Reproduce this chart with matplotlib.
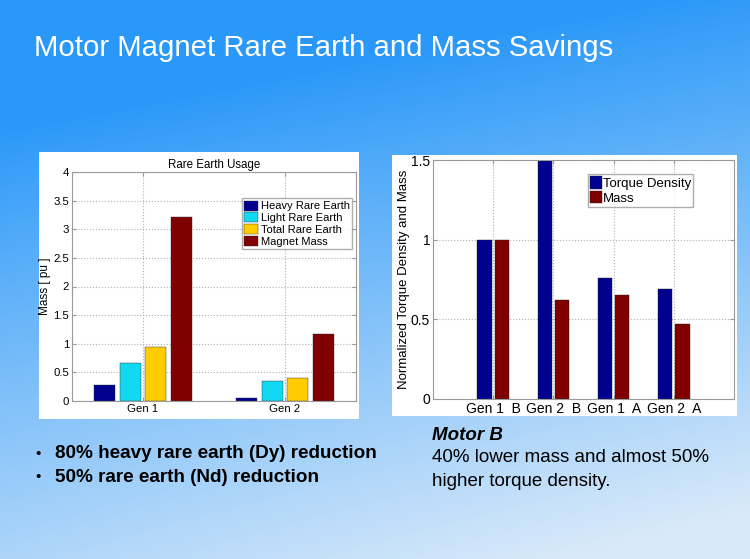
import numpy as np
from matplotlib import pyplot as plt
from matplotlib.patches import Rectangle

plt.rcParams['font.family'] = ['Liberation Sans', 'DejaVu Sans']

# Left chart data: rare earth usage
gens = ['Gen 1', 'Gen 2']
series_left = ['Heavy Rare Earth', 'Light Rare Earth', 'Total Rare Earth', 'Magnet Mass']
heavy = [0.28, 0.05]
light = [0.67, 0.35]
total = [0.94, 0.40]
magnet = [3.21, 1.17]
colors_left = ['#00008f', '#12d8f2', '#ffcc00', '#800000']

# Right chart data: normalized torque density and mass
motors = ['Gen 1  B', 'Gen 2  B', 'Gen 1  A', 'Gen 2  A']
torque = [1.0, 1.5, 0.76, 0.69]
mass = [1.0, 0.62, 0.655, 0.47]
colors_right = ['#00008f', '#800000']

W, H = 750, 559
fig = plt.figure(figsize=(W / 100, H / 100), dpi=100)

# Slide background gradient
bg = fig.add_axes([0, 0, 1, 1], zorder=-10)
yy, xx = np.mgrid[0:1:200j, 0:1:300j]
t = np.clip(yy * 0.95 + xx * 0.25 - 0.22 + 0.15 * np.clip(yy - 0.2, 0, 1) * xx, 0, 1) ** 0.9
top = np.array([42, 152, 248]) / 255
bot = np.array([215, 233, 250]) / 255
img = top[None, None, :] * (1 - t[..., None]) + bot[None, None, :] * t[..., None]
bg.imshow(img, aspect='auto', extent=[0, 1, 1, 0])
bg.set_axis_off()


def fx(px):
    return px / W


def fy(py):
    return 1 - py / H


# White panels behind charts
for x0, y0, x1, y1 in [(39, 152, 359, 419), (392, 155, 737, 416)]:
    fig.patches.append(Rectangle((fx(x0), fy(y1)), fx(x1 - x0), (y1 - y0) / H,
                                 transform=fig.transFigure, facecolor='white',
                                 edgecolor='none', zorder=-5))

fig.text(fx(34), fy(48), 'Motor Magnet Rare Earth and Mass Savings', color='white',
         fontsize=21.2, va='center', ha='left')


def style(ax):
    ax.set_facecolor('white')
    ax.grid(True, linestyle=':', color='#b0b0b0', linewidth=0.8)
    ax.set_axisbelow(True)
    for s in ax.spines.values():
        s.set_color('#9a9a9a')
        s.set_linewidth(0.8)
    ax.tick_params(direction='in', length=3, color='#9a9a9a', top=True, right=True)


# Left chart
ax1 = fig.add_axes([fx(72), fy(401), fx(356 - 72), (401 - 172) / H])
xl = np.arange(1, len(gens) + 1)
for i, (vals, lab) in enumerate(zip([heavy, light, total, magnet], series_left)):
    ax1.bar(xl + (i - 1.5) * 0.18, vals, width=0.145, color=colors_left[i],
            edgecolor='#333333', linewidth=0.3, label=lab)
ax1.set_xlim(0.5, 2.5)
ax1.set_ylim(0, 4)
ax1.set_xticks(xl)
ax1.set_xticklabels(gens)
ax1.set_yticks(np.arange(0, 4.01, 0.5))
ax1.set_yticklabels(['0', '0.5', '1', '1.5', '2', '2.5', '3', '3.5', '4'])
style(ax1)
ax1.tick_params(labelsize=8.2, pad=2)
ax1.set_ylabel('Mass [ pu ]', fontsize=8.5, labelpad=2)
ax1.set_title('Rare Earth Usage', fontsize=8.3, pad=3)
ax1.legend(loc='upper right', bbox_to_anchor=(0.985, 0.885), fontsize=8, frameon=True,
           fancybox=False, edgecolor='#9a9a9a', handlelength=1.3, handleheight=1.0,
           handletextpad=0.2, borderpad=0.2, labelspacing=0.1, borderaxespad=0)

# Right chart
ax2 = fig.add_axes([fx(433), fy(399), fx(734 - 433), (399 - 160) / H])
xr = np.arange(1, len(motors) + 1)
ax2.bar(xr - 0.145, torque, width=0.235, color=colors_right[0],
        edgecolor='#222222', linewidth=0.3, label='Torque Density')
ax2.bar(xr + 0.145, mass, width=0.235, color=colors_right[1],
        edgecolor='#222222', linewidth=0.3, label='Mass')
ax2.set_xlim(0, 5)
ax2.set_ylim(0, 1.5)
ax2.set_xticks(xr)
ax2.set_xticklabels(motors)
ax2.set_yticks([0, 0.5, 1, 1.5])
ax2.set_yticklabels(['0', '0.5', '1', '1.5'])
style(ax2)
ax2.tick_params(labelsize=10, pad=2)
ax2.set_ylabel('Normalized Torque Density and Mass', fontsize=9.5, labelpad=1)
ax2.legend(loc='upper left', bbox_to_anchor=(0.515, 0.94), fontsize=9.5, frameon=True,
           fancybox=False, edgecolor='#9a9a9a', handlelength=0.9, handleheight=1.1,
           handletextpad=0.05, borderpad=0.15, labelspacing=0.05, borderaxespad=0)

# Bullet text
bullets = ['80% heavy rare earth (Dy) reduction', '50% rare earth (Nd) reduction']
for k, b in enumerate(bullets):
    y = fy(454 + 23 * k)
    fig.text(fx(35), y, '\u2022', fontsize=11, va='center', color='black')
    fig.text(fx(55), y, b, fontsize=13.6, fontweight='bold', va='center', color='black')

fig.text(fx(432), fy(436), 'Motor B', fontsize=13.5, fontweight='bold', style='italic',
         va='center', color='black')
fig.text(fx(432), fy(458), '40% lower mass and almost 50%', fontsize=13.5, va='center', color='black')
fig.text(fx(432), fy(481), 'higher torque density.', fontsize=13.5, va='center', color='black')

fig.savefig('out.png', dpi=100)
